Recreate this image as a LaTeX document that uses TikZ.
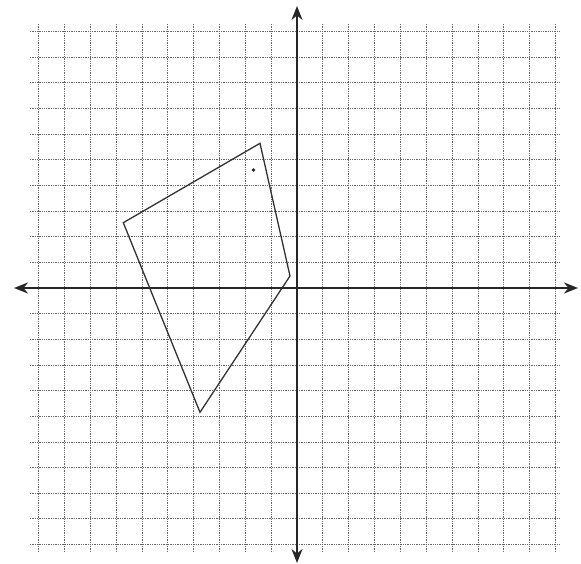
\documentclass[tikz,border=0pt]{standalone}
\usetikzlibrary{arrows.meta}
\begin{document}
\begin{tikzpicture}[x=1pt,y=-1pt,
  gridline/.style={line width=0.8pt,black!60,dash pattern=on 1.3pt off 1pt},
  axisline/.style={line width=2pt,black!85,{Stealth[length=14pt,width=11pt]}-{Stealth[length=14pt,width=11pt]}},
  quadline/.style={line width=1.3pt,black!80,line join=miter}]
\useasboundingbox (0,0) rectangle (581,564);
\fill[white] (0,0) rectangle (581,564);
% grid
\foreach \k in {-10,...,-1,1,2,...,10}{
  \draw[gridline] ({297+\k*25.85},24) -- ({297+\k*25.85},551);
  \draw[gridline] (30,{288+\k*25.65}) -- (561,{288+\k*25.65});
}
% axes
\coordinate (xl) at (14,288);
\coordinate (xr) at (578,288);
\coordinate (yt) at (297,6);
\coordinate (yb) at (297,563);
\draw[axisline] (xl) -- (xr);
\draw[axisline] (yb) -- (yt);
% quadrilateral
\coordinate (A) at (123.3,222.7);
\coordinate (B) at (260,143.3);
\coordinate (C) at (290,276);
\coordinate (D) at (200,412.3);
\draw[quadline] (A) -- (B) -- (C) -- (D) -- cycle;
\fill[black!85] (253.5,170) circle (1.8);
\end{tikzpicture}
\end{document}
